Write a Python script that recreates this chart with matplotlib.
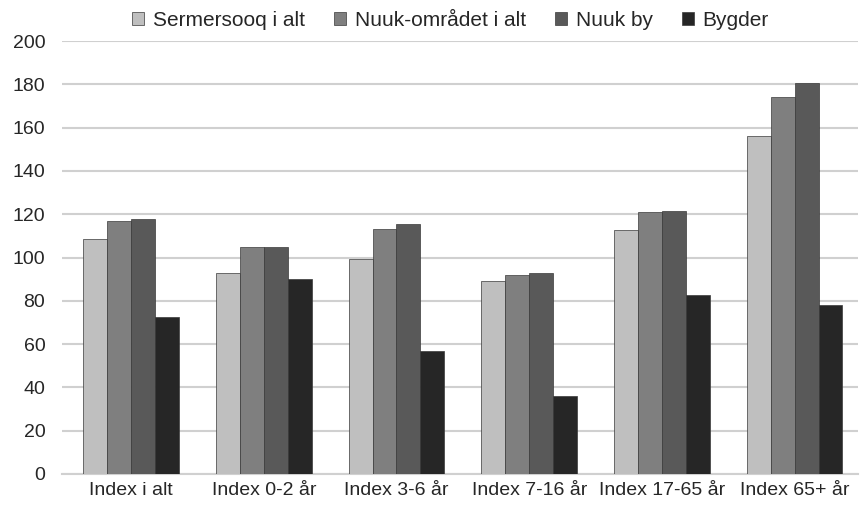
import numpy as np
import matplotlib.pyplot as plt

categories = ["Index i alt", "Index 0-2 år", "Index 3-6 år", "Index 7-16 år",
              "Index 17-65 år", "Index 65+ år"]
series_names = ["Sermersooq i alt", "Nuuk-området i alt", "Nuuk by", "Bygder"]
sermersooq = [108.5, 93, 99.5, 89, 112.5, 156]
nuuk_omraadet = [117, 105, 113, 92, 121, 174]
nuuk_by = [118, 105, 115.5, 93, 121.5, 180.5]
bygder = [72.5, 90, 57, 36, 82.5, 78]

colors = ["#bfbfbf", "#7f7f7f", "#595959", "#262626"]

plt.rcParams["font.family"] = ["Liberation Sans", "DejaVu Sans"]

fig = plt.figure(figsize=(8.61, 5.15), dpi=100)
ax = fig.add_axes([0.072, 0.080, 0.925, 0.840])

x = np.arange(len(categories))
w = 0.18
all_series = [sermersooq, nuuk_omraadet, nuuk_by, bygder]
for i, (vals, name) in enumerate(zip(all_series, series_names)):
    ax.bar(x + (i - 1.5) * w, vals, w, color=colors[i], label=name,
           edgecolor="#3a3a3a", linewidth=0.5, zorder=3)

ax.set_ylim(0, 200)
ax.set_yticks(range(0, 201, 20))
ax.set_xlim(-0.52, 5.48)
ax.set_xticks(x)
ax.set_xticklabels(categories)
ax.tick_params(axis="both", length=0, labelsize=14, colors="#262626")
ax.tick_params(axis="y", pad=12)
ax.tick_params(axis="x", pad=6)
ax.grid(axis="y", color="#d0d0d0", linewidth=1.5, zorder=0)
for s in ["top", "right", "left"]:
    ax.spines[s].set_visible(False)
ax.spines["bottom"].set_color("#d0d0d0")
ax.spines["bottom"].set_linewidth(1.5)

fig.legend(loc="upper center", bbox_to_anchor=(0.523, 1.015), ncol=4, frameon=False,
           fontsize=15, handlelength=0.6, handleheight=0.6, handletextpad=0.4,
           columnspacing=1.4, labelcolor="#262626")

fig.savefig("out.png", dpi=100)
